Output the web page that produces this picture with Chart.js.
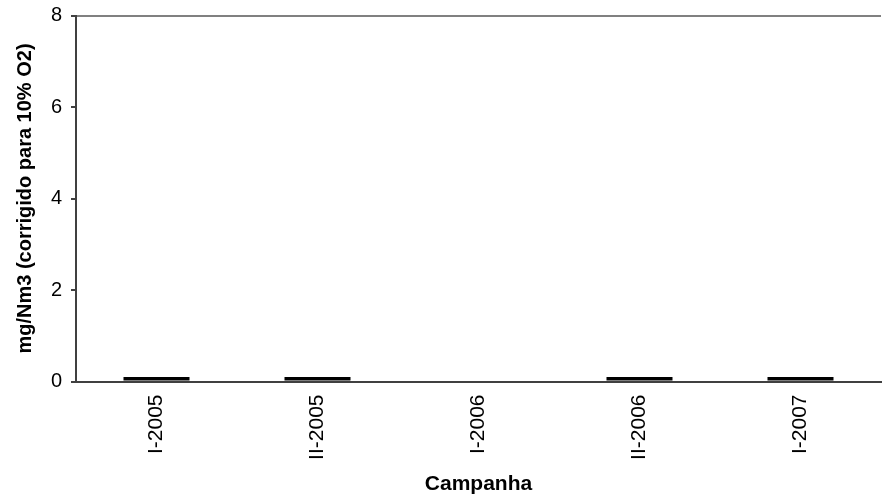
<!DOCTYPE html>
<html>
<head>
<meta charset="utf-8">
<script src="https://cdn.jsdelivr.net/npm/chart.js@4/dist/chart.umd.min.js"></script>
<style>
    html, body { margin: 0; padding: 0; background: #fff; }
    #wrap { width: 882px; height: 503px; position: relative; }
</style>
</head>
<body>
<div id="wrap"><canvas id="grafico"></canvas></div>
<script>
// Campanhas e valores medidos (mg/Nm3, corrigido para 10% O2)
const campanhas = ['I-2005', 'II-2005', 'I-2006', 'II-2006', 'I-2007'];
const valores = [0.1, 0.1, null, 0.1, 0.1];
const ticksY = [0, 2, 4, 6, 8];

const fonte = 'Arial, "Liberation Sans", sans-serif';

new Chart(document.getElementById('grafico'), {
    type: 'bar',
    data: {
        labels: campanhas,
        datasets: [{
            data: valores,
            backgroundColor: '#000000',
            borderWidth: 0,
            categoryPercentage: 0.82,
            barPercentage: 0.5
        }]
    },
    options: {
        responsive: true,
        maintainAspectRatio: false,
        animation: false,
        layout: { padding: { top: 15.5, right: 1, bottom: 0, left: 0 } },
        plugins: {
            legend: { display: false },
            tooltip: { enabled: false }
        },
        scales: {
            x: {
                grid: { display: false },
                border: { color: '#404040', width: 2 },
                ticks: {
                    color: '#000',
                    font: { family: fonte, size: 21 },
                    minRotation: 90,
                    maxRotation: 90,
                    padding: 5
                },
                title: {
                    display: true,
                    text: 'Campanha',
                    color: '#000',
                    font: { family: fonte, size: 21, weight: 'bold' },
                    padding: { top: 10, bottom: 6 }
                },
                afterFit(scale) { scale.height = 121.5; }
            },
            y: {
                min: 0,
                max: 8,
                afterBuildTicks(scale) { scale.ticks = ticksY.map(v => ({ value: v })); },
                grid: {
                    color: ctx => ctx.tick && ctx.tick.value === 8 ? '#808080' : 'rgba(0,0,0,0)',
                    lineWidth: 2,
                    drawTicks: true,
                    tickLength: 5,
                    tickColor: '#404040'
                },
                border: { color: '#404040', width: 2 },
                ticks: {
                    color: '#000',
                    // lineHeight pequeno para não empurrar a área do gráfico para baixo
                    font: { family: fonte, size: 20, lineHeight: 0.6 },
                    padding: 9
                },
                title: {
                    display: true,
                    text: 'mg/Nm3 (corrigido para 10% O2)',
                    color: '#000',
                    font: { family: fonte, size: 20, weight: 'bold' },
                    padding: { top: 13, bottom: 0 }
                },
                afterFit(scale) { scale.width = 76; }
            }
        }
    }
});
</script>
</body>
</html>
